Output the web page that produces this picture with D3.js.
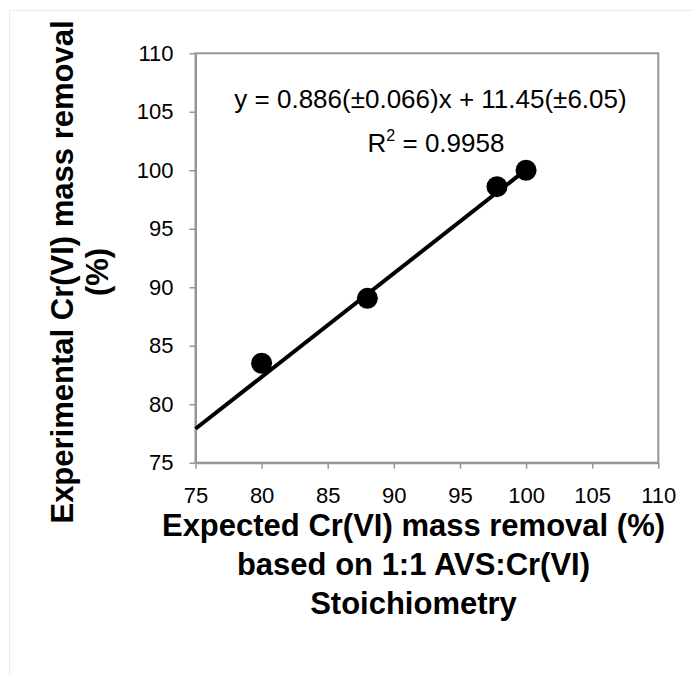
<!DOCTYPE html>
<html>
<head>
<meta charset="utf-8">
<script src="https://cdn.jsdelivr.net/npm/d3@7"></script>
<style>
  body { margin: 0; background: #fff; }
  svg { display: block; font-family: "Liberation Sans", Arial, sans-serif; }
</style>
</head>
<body>
<svg id="chart" width="693" height="675"></svg>
<script>
// data
const expected = [80, 88, 97.8, 100];
const experimental = [83.5, 89.05, 98.6, 100];
const xTicks = [75, 80, 85, 90, 95, 100, 105, 110];
const yTicks = [75, 80, 85, 90, 95, 100, 105, 110];
const fitSlope = 0.886;
const fitIntercept = 11.45;
const fitRange = [75, 100];
const equationLines = ["y = 0.886(±0.066)x + 11.45(±6.05)"];

const svg = d3.select("#chart");
const m = {left: 195.5, top: 53.3, right: 658.3, bottom: 462.7};
const gray = "#969696";

// faint outer frame
svg.append("rect")
  .attr("x", 9.5).attr("y", 10.5)
  .attr("width", 700).attr("height", 700)
  .attr("fill", "none").attr("stroke", "#ececec").attr("stroke-width", 1);

const x = d3.scaleLinear().domain([75, 110]).range([m.left, m.right]);
const y = d3.scaleLinear().domain([75, 110]).range([m.bottom, m.top]);

// plot area border
svg.append("rect")
  .attr("x", m.left).attr("y", m.top)
  .attr("width", m.right - m.left).attr("height", m.bottom - m.top)
  .attr("fill", "none").attr("stroke", gray).attr("stroke-width", 2);

// axes
const xAxis = svg.append("g")
  .attr("transform", `translate(0,${m.bottom})`)
  .call(d3.axisBottom(x).tickValues(xTicks).tickSize(6).tickPadding(19).tickSizeOuter(0));
const yAxis = svg.append("g")
  .attr("transform", `translate(${m.left},0)`)
  .call(d3.axisLeft(y).tickValues(yTicks).tickSize(6).tickPadding(16).tickSizeOuter(0));

[xAxis, yAxis].forEach(a => {
  a.select(".domain").attr("stroke", gray).attr("stroke-width", 2);
  a.selectAll(".tick line").attr("stroke", gray).attr("stroke-width", 1.5);
  a.selectAll("text")
    .attr("fill", "#000")
    .style("font-size", "22px")
    .style("font-family", "'Liberation Sans', Arial, sans-serif");
});

// regression line
svg.append("line")
  .attr("x1", x(fitRange[0])).attr("y1", y(fitSlope * fitRange[0] + fitIntercept))
  .attr("x2", x(fitRange[1])).attr("y2", y(fitSlope * fitRange[1] + fitIntercept))
  .attr("stroke", "#000").attr("stroke-width", 4);

// points
svg.selectAll("circle.pt")
  .data(expected.map((d, i) => ({x: d, y: experimental[i]})))
  .join("circle")
  .attr("class", "pt")
  .attr("cx", d => x(d.x))
  .attr("cy", d => y(d.y))
  .attr("r", 10.5)
  .attr("fill", "#000");

// equation
svg.append("text")
  .attr("x", 430.5).attr("y", 108)
  .attr("text-anchor", "middle")
  .style("font-size", "26px")
  .text(equationLines[0]);
const r2 = svg.append("text")
  .attr("x", 436).attr("y", 152)
  .attr("text-anchor", "middle")
  .style("font-size", "26px");
r2.append("tspan").text("R");
r2.append("tspan").attr("dy", -11).style("font-size", "16px").text("2");
r2.append("tspan").attr("dy", 11).text(" = 0.9958");

// x title
const xTitle = ["Expected Cr(VI) mass removal (%)", "based on 1:1 AVS:Cr(VI)", "Stoichiometry"];
svg.selectAll("text.xt")
  .data(xTitle)
  .join("text")
  .attr("class", "xt")
  .attr("x", 413.5)
  .attr("y", (d, i) => 536 + i * 39)
  .attr("text-anchor", "middle")
  .style("font-size", "31px")
  .style("font-weight", "bold")
  .text(d => d);

// y title
const yTitle = ["Experimental Cr(VI) mass removal", "(%)"];
svg.selectAll("text.yt")
  .data(yTitle)
  .join("text")
  .attr("class", "yt")
  .attr("transform", (d, i) => `translate(${73 + i * 35},272) rotate(-90)`)
  .attr("text-anchor", "middle")
  .style("font-size", "31px")
  .style("font-weight", "bold")
  .text(d => d);
</script>
</body>
</html>
